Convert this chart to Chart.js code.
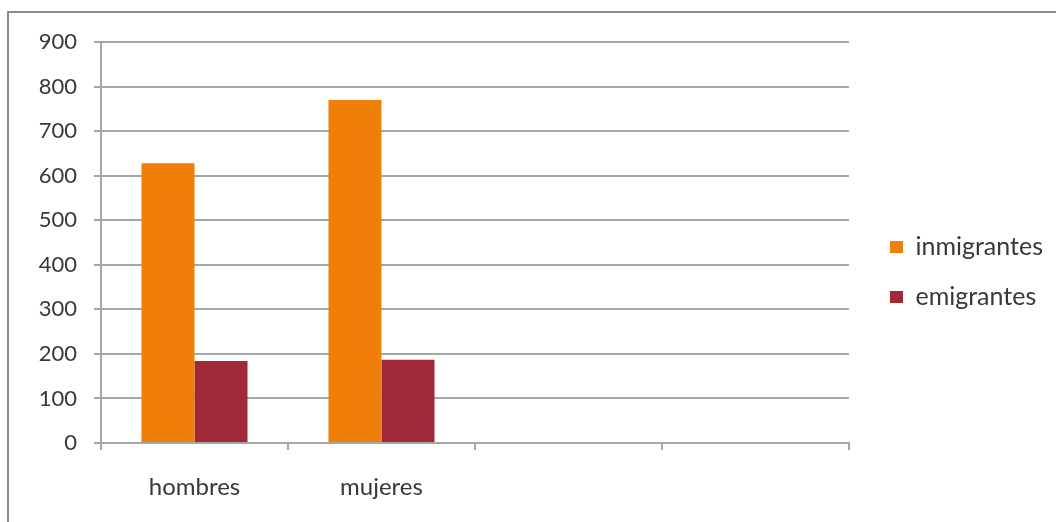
<!DOCTYPE html>
<html lang="es">
<head>
    <meta charset="UTF-8">
    <title>Inmigrantes y emigrantes</title>
    <style>
        body {
            margin: 0;
            background: #fff;
            width: 1056px;
            height: 522px;
            overflow: hidden;
            position: relative;
        }
        .frame {
            position: absolute;
            left: 7px;
            top: 11px;
            width: 1060px;
            height: 520px;
            border-left: 2px solid #8c8c8c;
            border-top: 2px solid #8c8c8c;
        }
        canvas {
            position: absolute;
            left: 0;
            top: 0;
        }
    </style>
    <script src="https://cdn.jsdelivr.net/npm/chart.js"></script>
</head>
<body>
    <div class="frame"></div>
    <canvas id="chart" width="1056" height="522"></canvas>

    <script>
        const categories = ['hombres', 'mujeres', '', ''];
        const inmigrantes = [628, 770, null, null];
        const emigrantes = [184, 187, null, null];
        const yTicks = [0, 100, 200, 300, 400, 500, 600, 700, 800, 900];

        const textColor = '#383838';
        const lineColor = '#a6a6a6';

        new Chart(document.getElementById('chart'), {
            type: 'bar',
            data: {
                labels: categories,
                datasets: [
                    {
                        label: 'inmigrantes',
                        data: inmigrantes,
                        backgroundColor: '#f07f09',
                        categoryPercentage: 0.567,
                        barPercentage: 1
                    },
                    {
                        label: 'emigrantes',
                        data: emigrantes,
                        backgroundColor: '#9f2936',
                        categoryPercentage: 0.567,
                        barPercentage: 1
                    }
                ]
            },
            options: {
                responsive: false,
                animation: false,
                devicePixelRatio: 1,
                layout: { padding: { top: 42, bottom: 20, left: 0, right: 3 } },
                plugins: {
                    tooltip: { enabled: false },
                    legend: {
                        position: 'right',
                        maxWidth: 220,
                        labels: {
                            color: textColor,
                            font: { family: 'Lato', size: 25 },
                            boxWidth: 13,
                            boxHeight: 12,
                            padding: 25
                        }
                    }
                },
                scales: {
                    x: {
                        grid: {
                            offset: true,
                            drawOnChartArea: false,
                            color: lineColor,
                            lineWidth: 2,
                            tickLength: 7
                        },
                        border: { color: lineColor, width: 2 },
                        ticks: { color: textColor, font: { family: 'Lato', size: 24 }, padding: 23, maxRotation: 0 },
                        afterFit: s => { s.height = 59; }
                    },
                    y: {
                        min: 0,
                        max: 900,
                        afterBuildTicks: s => { s.ticks = yTicks.map(v => ({ value: v })); },
                        grid: { color: lineColor, lineWidth: 2, tickLength: 7 },
                        border: { color: lineColor, width: 2 },
                        ticks: { color: textColor, font: { family: 'Lato', size: 22 }, padding: 17 },
                        afterFit: s => { s.width = 101; }
                    },
                    // empty spacer between plot and legend
                    gap: {
                        type: 'linear',
                        position: 'right',
                        grid: { display: false },
                        border: { display: false },
                        ticks: { display: false },
                        afterFit: s => { s.width = 16; }
                    }
                }
            }
        });
    </script>
</body>
</html>
